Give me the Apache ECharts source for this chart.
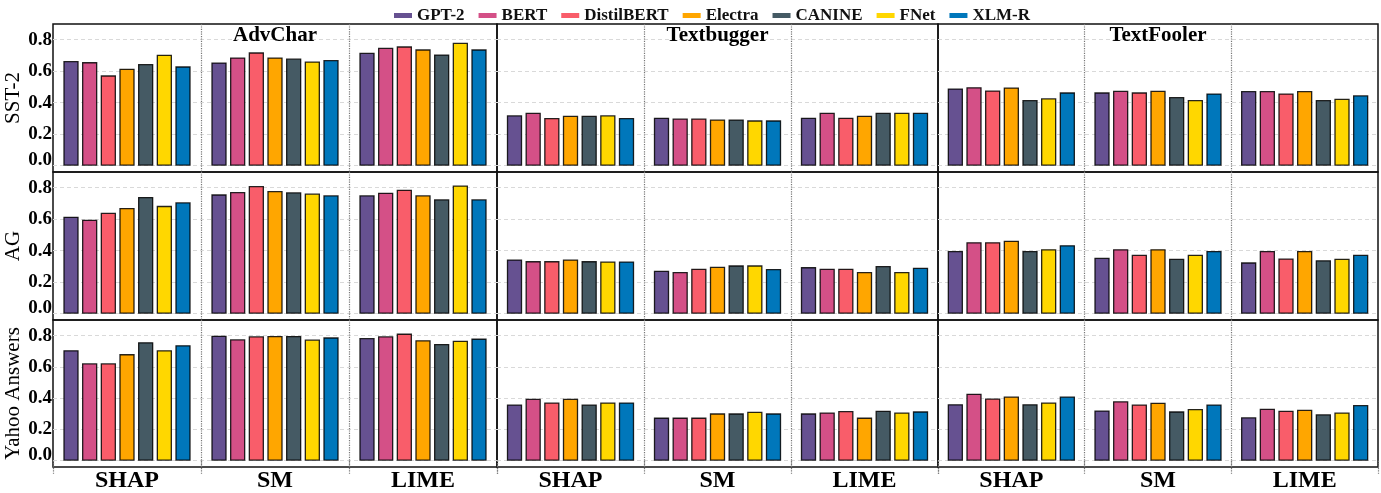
<!DOCTYPE html>
<html><head><meta charset="utf-8">
<script src="https://cdn.jsdelivr.net/npm/echarts@6/dist/echarts.min.js"></script>
<style>html,body{margin:0;padding:0;background:#fff}#c{width:1381px;height:493px}</style>
</head><body><div id="c"></div>
<script>
const models = ['GPT-2', 'BERT', 'DistilBERT', 'Electra', 'CANINE', 'FNet', 'XLM-R'];
const methods = ['SHAP', 'SM', 'LIME'];
const attacks = ['AdvChar', 'Textbugger', 'TextFooler'];
const datasets = ['SST-2', 'AG', 'Yahoo Answers'];
const yTicks = [0, 0.2, 0.4, 0.6, 0.8];

// rows: SHAP, SM, LIME ; columns follow `models`
const sst2AdvChar = [[0.665,0.658,0.574,0.616,0.646,0.705,0.631],[0.656,0.688,0.720,0.688,0.681,0.662,0.671],[0.717,0.749,0.758,0.739,0.707,0.781,0.739]];
const sst2Textbugger = [[0.320,0.336,0.303,0.317,0.317,0.320,0.303],[0.305,0.300,0.300,0.294,0.294,0.288,0.288],[0.305,0.336,0.305,0.317,0.336,0.336,0.336]];
const sst2TextFooler = [[0.491,0.499,0.478,0.497,0.417,0.428,0.466],[0.466,0.476,0.466,0.476,0.436,0.417,0.459],[0.474,0.474,0.459,0.474,0.417,0.425,0.447]];
const agAdvChar = [[0.616,0.597,0.641,0.672,0.742,0.685,0.708],[0.758,0.773,0.811,0.779,0.771,0.763,0.752],[0.752,0.769,0.788,0.752,0.727,0.815,0.727]];
const agTextbugger = [[0.345,0.334,0.334,0.345,0.334,0.332,0.332],[0.273,0.265,0.286,0.298,0.307,0.307,0.284],[0.296,0.286,0.286,0.265,0.303,0.265,0.292]];
const agTextFooler = [[0.399,0.454,0.454,0.464,0.399,0.410,0.435],[0.355,0.410,0.374,0.410,0.349,0.374,0.399],[0.326,0.399,0.351,0.399,0.340,0.349,0.374]];
const yahooAdvChar = [[0.707,0.623,0.623,0.682,0.758,0.707,0.739],[0.800,0.777,0.796,0.798,0.798,0.775,0.789],[0.785,0.796,0.813,0.771,0.747,0.768,0.781]];
const yahooTextbugger = [[0.360,0.396,0.373,0.396,0.360,0.373,0.373],[0.276,0.276,0.276,0.303,0.303,0.314,0.303],[0.303,0.309,0.318,0.276,0.320,0.309,0.316]];
const yahooTextFooler = [[0.362,0.429,0.398,0.411,0.362,0.373,0.411],[0.322,0.381,0.360,0.371,0.316,0.331,0.360],[0.278,0.333,0.320,0.326,0.297,0.309,0.356]];

const panels = [
  [sst2AdvChar, sst2Textbugger, sst2TextFooler],
  [agAdvChar, agTextbugger, agTextFooler],
  [yahooAdvChar, yahooTextbugger, yahooTextFooler]
];

const colors = ['#665191', '#d45087', '#f95d6a', '#ffa600', '#455a64', '#ffd700', '#0077bb'];
const FF = '"Liberation Serif", "Times New Roman", serif';
const groupLeft = [53, 497, 938];
const groupWidth = [444, 441, 440];
const rowTop = [24, 172, 320];
const rowHeight = 148;

const grid = [], xAxis = [], yAxis = [], series = [];
let idx = 0;
for (let r = 0; r < 3; r++) {
  for (let c = 0; c < 3; c++) {
    const bottomRow = r === 2;
    grid.push({
      left: groupLeft[c], top: rowTop[r], width: groupWidth[c], height: rowHeight,
      show: true, borderColor: '#111', borderWidth: 1.5, backgroundColor: 'transparent'
    });
    xAxis.push({
      gridIndex: idx, type: 'category', data: methods, boundaryGap: true,
      axisLine: { show: false },
      axisTick: bottomRow ? { show: true, length: 13, lineStyle: { type: 'dotted', color: '#777', width: 1.2 } } : { show: false },
      axisLabel: bottomRow ? { show: true, margin: 2, fontFamily: FF, fontWeight: 'bold', fontSize: 24, color: '#000' } : { show: false },
      splitLine: { show: true, showMinLine: false, showMaxLine: false, lineStyle: { type: 'dotted', color: '#777', width: 1.2 } }
    });
    yAxis.push({
      gridIndex: idx, type: 'value', min: -0.04, max: 0.9,
      axisLine: { show: false }, axisTick: { show: false },
      axisLabel: c === 0 ? {
        show: true, customValues: yTicks, margin: 1,
        formatter: v => v === 0 ? '{z|0.0}' : '{n|' + v.toFixed(1) + '}',
        rich: {
          n: { fontFamily: FF, fontWeight: 'bold', fontSize: 19, color: '#000' },
          z: { fontFamily: FF, fontWeight: 'bold', fontSize: 19, color: '#000', padding: [0, 0, 11, 0] }
        }
      } : { show: false },
      splitLine: { show: true, showMinLine: false, showMaxLine: false, lineStyle: { type: [4, 3], color: '#d9d9d9', width: 1 } },
      name: c === 0 ? datasets[r] : '',
      nameLocation: 'middle', nameGap: 22,
      nameTextStyle: { fontFamily: FF, fontSize: 21, color: '#000' }
    });
    const arr = panels[r][c];
    for (let m = 0; m < models.length; m++) {
      series.push({
        type: 'bar', name: models[m], xAxisIndex: idx, yAxisIndex: idx,
        data: arr.map(row => row[m]),
        barWidth: 15.3, barGap: '22%',
        itemStyle: { color: colors[m], borderColor: 'rgba(0,0,0,0.85)', borderWidth: 1.3 },
        silent: true
      });
    }
    idx++;
  }
}

const graphic = attacks.map((a, c) => ({
  type: 'text', x: groupLeft[c] + groupWidth[c] / 2, y: 36, z: 10,
  style: { text: a, fontFamily: FF, fontWeight: 'bold', fontSize: 21, fill: '#000', align: 'center', verticalAlign: 'middle' }
}));

const chart = echarts.init(document.getElementById('c'), null, { renderer: 'canvas' });
chart.setOption({
  animation: false,
  backgroundColor: '#fff',
  legend: {
    data: models, top: 2, left: 389, icon: 'rect', itemWidth: 18, itemHeight: 5, itemGap: 14,
    itemStyle: { borderWidth: 0 },
    textStyle: { fontFamily: FF, fontWeight: 'bold', fontSize: 17, color: '#111' }
  },
  grid, xAxis, yAxis, series, graphic
});
</script></body></html>
